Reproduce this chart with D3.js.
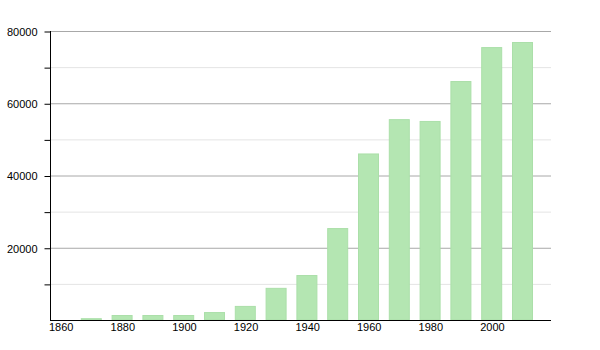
<!DOCTYPE html>
<html>
<head>
<meta charset="utf-8">
<script src="https://cdn.jsdelivr.net/npm/d3@7"></script>
<style>
  body { margin: 0; background: #fff; }
  svg text { font-family: "Liberation Sans", Arial, sans-serif; font-size: 11px; fill: #000; }
</style>
</head>
<body>
<svg id="chart" width="600" height="350"></svg>
<script>
const years = [1870, 1880, 1890, 1900, 1910, 1920, 1930, 1940, 1950, 1960, 1970, 1980, 1990, 2000, 2010];
const population = [500, 1380, 1380, 1380, 2200, 3900, 8900, 12450, 25450, 46100, 55600, 55100, 66150, 75550, 76950];
const xTicks = [1860, 1880, 1900, 1920, 1940, 1960, 1980, 2000];
const yMajor = [20000, 40000, 60000, 80000];
const yMinor = [10000, 30000, 50000, 70000];

const svg = d3.select('#chart');
const margin = { top: 31, right: 49, bottom: 30, left: 50 };
const width = 600, height = 350;
const plotBottom = height - margin.bottom;

const x = d3.scaleLinear().domain([1860, 1870]).range([margin.left, margin.left + 30.8]);
const y = d3.scaleLinear().domain([0, 80000]).range([plotBottom, margin.top]);
const barWidth = 21;

// minor grid
svg.append('g').selectAll('line')
    .data(yMinor)
    .enter().append('line')
    .attr('x1', margin.left).attr('x2', width - margin.right)
    .attr('y1', d => y(d) + 0.5).attr('y2', d => y(d) + 0.5)
    .attr('stroke', '#e4e4e4');

// major grid
svg.append('g').selectAll('line')
    .data(yMajor)
    .enter().append('line')
    .attr('x1', margin.left).attr('x2', width - margin.right)
    .attr('y1', d => y(d) + 0.5).attr('y2', d => y(d) + 0.5)
    .attr('stroke', '#a8a8a8');

// bars
svg.append('g').selectAll('rect')
    .data(years)
    .enter().append('rect')
    .attr('x', d => x(d) + 0.5)
    .attr('y', (d, i) => y(population[i]) + 0.5)
    .attr('width', barWidth - 1)
    .attr('height', (d, i) => Math.max(0, plotBottom - y(population[i]) - 0.5))
    .attr('fill', '#b4e6b2')
    .attr('stroke', '#abdfa9')
    .attr('stroke-width', 1);

// y axis
const yAxis = svg.append('g')
    .attr('transform', `translate(${margin.left + 0.5}, 0.5)`)
    .call(d3.axisLeft(y).tickValues([...yMinor, ...yMajor].sort((a, b) => a - b))
        .tickSize(6).tickFormat(d => yMajor.includes(d) ? d : ''));
yAxis.select('.domain').attr('d', `M0,${margin.top - 0.5}V${plotBottom}`).attr('stroke', '#000');
yAxis.selectAll('.tick line').attr('stroke', '#000');
yAxis.selectAll('.tick text').attr('x', -13).attr('dy', '0.35em')
    .style('font-family', '"Liberation Sans", Arial, sans-serif').style('font-size', '11px');

// x axis
const xAxis = svg.append('g')
    .attr('transform', `translate(0, ${plotBottom + 0.5})`)
    .call(d3.axisBottom(x).tickValues(xTicks).tickSize(0).tickFormat(d3.format('d')));
xAxis.select('.domain').attr('d', `M${margin.left},0H${width - margin.right}`).attr('stroke', '#000');
xAxis.selectAll('.tick text')
    .attr('text-anchor', 'start')
    .attr('x', -1.5)
    .attr('y', 3)
    .attr('dy', '0.71em')
    .style('font-family', '"Liberation Sans", Arial, sans-serif').style('font-size', '11px');
</script>
</body>
</html>
